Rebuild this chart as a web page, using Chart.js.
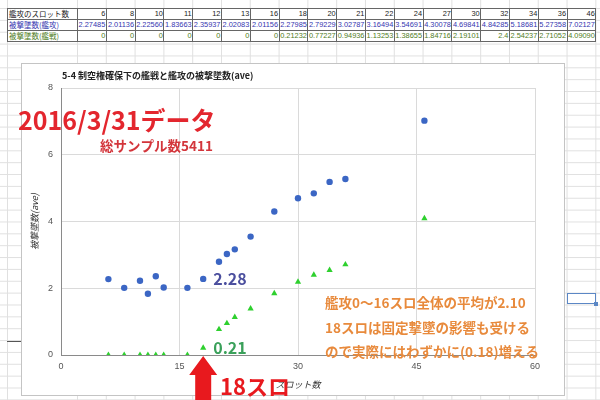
<!DOCTYPE html>
<html>
<head>
<meta charset="utf-8">
<script src="https://cdn.jsdelivr.net/npm/chart.js@4.4.1/dist/chart.umd.min.js"></script>
<style>
  body { margin: 0; width: 600px; height: 400px; overflow: hidden; position: relative; background: #fff; }
  .rows { position: absolute; left: 0; top: 0; width: 600px; height: 400px;
    background-image: linear-gradient(to bottom, #e0e0e0 1px, transparent 1px);
    background-size: 100% 11.86px; background-position: 0 8px; }
  .cols { position: absolute; left: 77px; top: 0; width: 523px; height: 400px;
    background-image: linear-gradient(to right, #e0e0e0 1px, transparent 1px);
    background-size: 28.8px 100%; }
  .colA { position: absolute; left: 7px; top: 0; width: 1px; height: 400px; background: #e0e0e0; }
  table.sheet { position: absolute; left: 7px; top: 8px; width: 588px; border-collapse: collapse; table-layout: fixed;
    font-family: "Liberation Sans", Arial, sans-serif; font-size: 7.4px; background: #fff; }
  table.sheet td { border: 1px solid #666; height: 10px; padding: 0 0.5px 0 0; line-height: 10px;
    white-space: nowrap; overflow: visible; text-align: right; }
  table.sheet td.lbl { text-align: left; padding-left: 1px; font-family: "Noto Sans CJK JP", sans-serif; font-size: 7.5px; }
  .r1 td { color: #222; }
  .r2 td { color: #3535b0; }
  .r3 td { color: #4f7d23; }
  .frame { position: absolute; left: 21px; top: 63px; width: 544px; height: 333px; box-sizing: border-box;
    background: #fff; border: 1px solid #c4c4c4; }
  .dash { position: absolute; left: 7px; top: 341px; width: 14px; height: 1px; background: #555; }
  .sel { position: absolute; left: 567px; top: 293px; width: 29px; height: 11px; box-sizing: border-box;
    border: 1.5px solid #5b87c5; }
  .sel i { position: absolute; right: -3px; bottom: -3px; width: 4px; height: 4px; background: #5b87c5; }
  canvas { position: absolute; left: 0; top: 0; }
</style>
</head>
<body>
<div class="rows"></div>
<div class="cols"></div>
<div class="colA"></div>
<table class="sheet" id="sheet"></table>
<div class="dash"></div>
<div class="sel"><i></i></div>
<div class="frame"></div>
<canvas id="chart" width="600" height="400"></canvas>
<script>
// data from the sheet (2016/3/31)
const slots = [6, 8, 10, 11, 12, 13, 16, 18, 20, 21, 22, 24, 27, 30, 32, 34, 36, 46];
const attackerLoss = [2.27485, 2.01136, 2.22560, 1.83663, 2.35937, 2.02083, 2.01156, 2.27985, 2.79229,
  3.02787, 3.16494, 3.54691, 4.30078, 4.69841, 4.84285, 5.18681, 5.27358, 7.02127];
const fighterLoss = [0, 0, 0, 0, 0, 0, 0, 0.21232, 0.77227, 0.94936, 1.13253, 1.38655, 1.84716,
  2.19101, 2.4, 2.54237, 2.71052, 4.09090];
const xTicks = [0, 15, 30, 45, 60];
const yTicks = [0, 2, 4, 6, 8];

const rowLabels = ['艦攻のスロット数', '被撃墜数(艦攻)', '被撃墜数(艦戦)'];
const notes = ['艦攻0～16スロ全体の平均が2.10', '18スロは固定撃墜の影響も受ける', 'ので実際にはわずかに(0.18)増える'];

const JP = '"Noto Sans CJK JP", sans-serif';
const LAT = '"Liberation Sans", Arial, sans-serif';

// spreadsheet table
function fmt(v) {
  const s = String(v);
  return s.length <= 4 ? s : v.toFixed(5);
}
const sheet = document.getElementById('sheet');
let html = '<colgroup><col style="width:70px">' + slots.map(() => '<col style="width:28.8px">').join('') + '</colgroup>';
[slots, attackerLoss, fighterLoss].forEach((row, i) => {
  html += '<tr class="r' + (i + 1) + '"><td class="lbl">' + rowLabels[i] + '</td>' +
    row.map(v => '<td>' + (i === 0 ? v : fmt(v)) + '</td>').join('') + '</tr>';
});
sheet.innerHTML = html;

// text, arrow and notes drawn over the chart
const overlay = {
  id: 'overlay',
  afterDraw(chart) {
    const ctx = chart.ctx;
    const x = chart.scales.x, y = chart.scales.y;
    ctx.save();
    ctx.textBaseline = 'middle';
    ctx.textAlign = 'left';

    ctx.fillStyle = '#222';
    ctx.font = 'bold 9px ' + JP;
    ctx.fillText('5-4 制空権確保下の艦戦と艦攻の被撃墜数(ave)', 62, 76);

    ctx.fillStyle = '#e3262e';
    ctx.font = 'bold 25px ' + JP;
    ctx.fillText('2016/3/31データ', 18, 120);
    ctx.fillStyle = '#d3353b';
    ctx.font = 'bold 13.5px ' + JP;
    ctx.fillText('総サンプル数5411', 100, 146);

    const px = x.getPixelForValue(slots[7]);
    ctx.font = 'bold 16px ' + JP;
    ctx.fillStyle = '#4b4f9e';
    ctx.fillText(attackerLoss[7].toFixed(2), px + 10, y.getPixelForValue(attackerLoss[7]));
    ctx.fillStyle = '#3aa05a';
    ctx.fillText(fighterLoss[7].toFixed(2), px + 10, y.getPixelForValue(fighterLoss[7]));

    // red arrow pointing at 18 slots
    const tip = y.bottom + 1;
    ctx.fillStyle = '#e8191e';
    ctx.beginPath();
    ctx.moveTo(px, tip);
    ctx.lineTo(px + 14, tip + 19);
    ctx.lineTo(px + 8, tip + 19);
    ctx.lineTo(px + 8, 400);
    ctx.lineTo(px - 8, 400);
    ctx.lineTo(px - 8, tip + 19);
    ctx.lineTo(px - 14, tip + 19);
    ctx.closePath();
    ctx.fill();
    ctx.font = 'bold 22px ' + JP;
    ctx.fillText('18スロ', 220, 387);

    ctx.fillStyle = '#e88a3c';
    ctx.font = 'bold 13.5px ' + JP;
    notes.forEach((t, i) => ctx.fillText(t, 325, 303 + i * 24.5));
    ctx.restore();
  }
};

new Chart(document.getElementById('chart'), {
  type: 'scatter',
  data: {
    datasets: [
      {
        label: '被撃墜数(艦攻)',
        data: slots.map((s, i) => ({ x: s, y: attackerLoss[i] })),
        backgroundColor: '#3b66c4',
        borderWidth: 0,
        pointRadius: 3.2,
        pointStyle: 'circle'
      },
      {
        label: '被撃墜数(艦戦)',
        data: slots.map((s, i) => ({ x: s, y: fighterLoss[i] })),
        backgroundColor: '#2ed02e',
        borderWidth: 0,
        pointRadius: 3.6,
        pointStyle: 'triangle'
      }
    ]
  },
  options: {
    responsive: false,
    animation: false,
    layout: { padding: { top: 88, right: 65, bottom: 0, left: 0 } },
    plugins: { legend: { display: false }, tooltip: { enabled: false } },
    scales: {
      x: {
        type: 'linear', min: 0, max: 60,
        afterBuildTicks: s => { s.ticks = xTicks.map(v => ({ value: v })); },
        afterFit: s => { s.height = 45; },
        ticks: { padding: 6, color: '#555', font: { size: 9, family: LAT } },
        grid: { color: '#dadada', drawTicks: false },
        border: { color: '#8a8a8a' },
        title: { display: true, text: 'スロット数', color: '#333', padding: { top: 0, bottom: 10 },
          font: { size: 9, style: 'italic', family: JP } }
      },
      y: {
        type: 'linear', min: 0, max: 8,
        afterBuildTicks: s => { s.ticks = yTicks.map(v => ({ value: v })); },
        afterFit: s => { s.width = 61; },
        ticks: { padding: 8, color: '#555', font: { size: 9, family: LAT } },
        grid: { color: '#dadada', drawTicks: false },
        border: { color: '#8a8a8a' },
        title: { display: true, text: '被撃墜数(ave)', color: '#333', padding: { top: 29.6, bottom: 0 },
          font: { size: 9, style: 'italic', family: JP } }
      }
    }
  },
  plugins: [overlay]
});
</script>
</body>
</html>
